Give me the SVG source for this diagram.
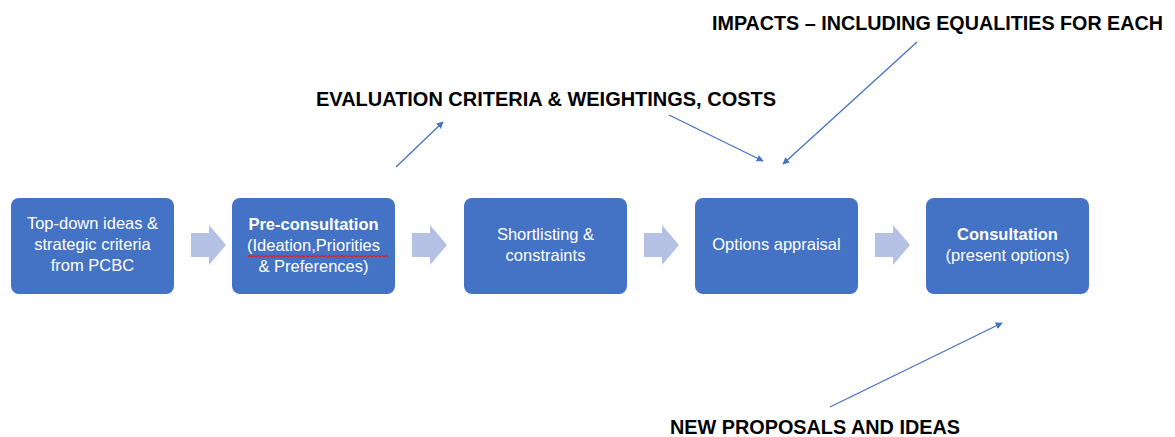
<svg xmlns="http://www.w3.org/2000/svg" width="1175" height="437" viewBox="0 0 1175 437">
<style>
.box{fill:#4472C4}
.blk{fill:#B4C0E4}
.t{font-family:"Liberation Sans",Arial,sans-serif;font-size:16.5px;fill:#fff;text-anchor:middle}
.b{font-weight:bold}
.lab{font-family:"Liberation Sans",Arial,sans-serif;font-size:21px;font-weight:bold;fill:#000}
.ln{stroke:#4472C4;stroke-width:1.3;fill:none}
</style>
<defs>
<marker id="ah" viewBox="0 0 10 10" refX="9" refY="5" markerWidth="7" markerHeight="7" orient="auto" markerUnits="userSpaceOnUse">
<path d="M0,0 L10,5 L0,10 z" fill="#4472C4"/>
</marker>
<path id="blockarrow" d="M0,8 H18 V0 L35,20 L18,40 V32 H0 z"/>
</defs>
<rect width="1175" height="437" fill="#fff"/>
<g id="node1"><rect class="box" x="11" y="198" width="163" height="96" rx="8"/>
<text class="t" x="92.5" y="229">Top-down ideas &amp;</text>
<text class="t" x="92.5" y="250">strategic criteria</text>
<text class="t" x="92.5" y="271">from PCBC</text></g>
<g id="node2"><rect class="box" x="232" y="198" width="163" height="96" rx="8"/>
<text class="t b" x="313.5" y="230">Pre-consultation</text>
<text class="t" x="313.5" y="251">(Ideation,Priorities</text>
<text class="t" x="313.5" y="272">&amp; Preferences)</text>
<path d="M248,257 l2,-1.6 l2,1.6 l2,-1.6 l2,1.6 l2,-1.6 l2,1.6 l2,-1.6 l2,1.6 l2,-1.6 l2,1.6 l2,-1.6 l2,1.6 l2,-1.6 l2,1.6 l2,-1.6 l2,1.6 l2,-1.6 l2,1.6 l2,-1.6 l2,1.6 l2,-1.6 l2,1.6 l2,-1.6 l2,1.6 l2,-1.6 l2,1.6 l2,-1.6 l2,1.6 l2,-1.6 l2,1.6 l2,-1.6 l2,1.6 l2,-1.6 l2,1.6 l2,-1.6 l2,1.6 l2,-1.6 l2,1.6 l2,-1.6 l2,1.6 l2,-1.6 l2,1.6 l2,-1.6 l2,1.6 l2,-1.6 l2,1.6 l2,-1.6 l2,1.6 l2,-1.6 l2,1.6 l2,-1.6 l2,1.6 l2,-1.6 l2,1.6 l2,-1.6 l2,1.6 l2,-1.6 l2,1.6 l2,-1.6 l2,1.6 l2,-1.6 l2,1.6 l2,-1.6 l2,1.6 l2,-1.6 l2,1.6 l2,-1.6 l2,1.6 l2,-1.6 l2,1.6" stroke="#E02020" stroke-width="1.2" fill="none"/></g>
<g id="node3"><rect class="box" x="464" y="198" width="163" height="96" rx="8"/>
<text class="t" x="545.5" y="240">Shortlisting &amp;</text>
<text class="t" x="545.5" y="261">constraints</text></g>
<g id="node4"><rect class="box" x="695" y="198" width="163" height="96" rx="8"/>
<text class="t" x="776.5" y="250">Options appraisal</text></g>
<g id="node5"><rect class="box" x="926" y="198" width="163" height="96" rx="8"/>
<text class="t b" x="1007.5" y="240">Consultation</text>
<text class="t" x="1007.5" y="261">(present options)</text></g>
<g id="connectors">
<use href="#blockarrow" class="blk" x="191" y="225"/>
<use href="#blockarrow" class="blk" x="412" y="225"/>
<use href="#blockarrow" class="blk" x="644" y="225"/>
<use href="#blockarrow" class="blk" x="875" y="225"/>
<line class="ln" x1="396" y1="167" x2="443" y2="122" marker-end="url(#ah)"/>
<line class="ln" x1="669" y1="115" x2="763" y2="161" marker-end="url(#ah)"/>
<line class="ln" x1="917" y1="42" x2="783" y2="164" marker-end="url(#ah)"/>
<line class="ln" x1="830" y1="407" x2="1002" y2="323" marker-end="url(#ah)"/>
</g>
<g id="labels">
<text class="lab" x="712" y="30" style="font-size:19.5px" textLength="451" lengthAdjust="spacingAndGlyphs">IMPACTS – INCLUDING EQUALITIES FOR EACH</text>
<text class="lab" x="316" y="106" textLength="460" lengthAdjust="spacingAndGlyphs">EVALUATION CRITERIA &amp; WEIGHTINGS, COSTS</text>
<text class="lab" x="670" y="434" textLength="290" lengthAdjust="spacingAndGlyphs">NEW PROPOSALS AND IDEAS</text>
</g>
</svg>
